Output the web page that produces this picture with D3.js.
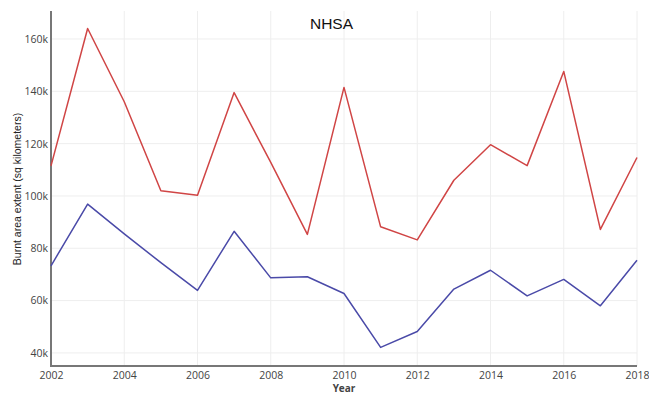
<!DOCTYPE html>
<html>
<head>
<meta charset="utf-8">
<script src="https://cdn.jsdelivr.net/npm/d3@7"></script>
<style>
  html, body { margin: 0; padding: 0; background: #fff; }
  svg { display: block; }
</style>
</head>
<body>
<svg id="chart" width="649" height="395"></svg>
<script>
const years = [2002, 2003, 2004, 2005, 2006, 2007, 2008, 2009, 2010, 2011, 2012, 2013, 2014, 2015, 2016, 2017, 2018];
const redSeries = [111500, 164000, 136000, 102000, 100300, 139500, 112800, 85300, 141500, 88200, 83200, 106000, 119600, 111600, 147600, 87200, 114700];
const blueSeries = [73300, 96900, 85500, 74500, 63900, 86500, 68700, 69100, 62700, 42100, 48200, 64400, 71600, 61800, 68100, 58000, 75400];
const xTickValues = [2002, 2004, 2006, 2008, 2010, 2012, 2014, 2016, 2018];
const yTickValues = [40000, 60000, 80000, 100000, 120000, 140000, 160000];
const titleText = "NHSA";
const xTitle = "Year";
const yTitle = "Burnt area extent (sq kilometers)";

const svg = d3.select("#chart");
const pLeft = 51, pRight = 637, pTop = 11, pBottom = 366;

const x = d3.scaleLinear().domain([2002, 2018]).range([pLeft, pRight]);
const y = d3.scaleLinear().domain([35000, 170700]).range([pBottom, pTop]);

// grid
const grid = svg.append("g");
grid.selectAll("line.vg").data(xTickValues.slice(1)).enter().append("line")
  .attr("x1", d => x(d)).attr("x2", d => x(d))
  .attr("y1", pTop).attr("y2", pBottom)
  .attr("stroke", "#eeeeee").attr("stroke-width", 1);
grid.selectAll("line.hg").data(yTickValues).enter().append("line")
  .attr("x1", pLeft).attr("x2", pRight)
  .attr("y1", d => y(d)).attr("y2", d => y(d))
  .attr("stroke", "#eeeeee").attr("stroke-width", 1);

// axes
const fmt = d => (d / 1000) + "k";
const xAxis = d3.axisBottom(x).tickValues(xTickValues).tickFormat(d3.format("d")).tickSize(0).tickPadding(5.5);
const yAxis = d3.axisLeft(y).tickValues(yTickValues).tickFormat(fmt).tickSize(0).tickPadding(3);

const gx = svg.append("g").attr("transform", `translate(0,${pBottom})`).call(xAxis);
const gy = svg.append("g").attr("transform", `translate(${pLeft},0)`).call(yAxis);
[gx, gy].forEach(g => {
  g.select(".domain").remove();
  g.selectAll("text").attr("font-family", "'Open Sans', sans-serif").attr("font-size", 10.5).attr("fill", "#444");
});

svg.append("line").attr("x1", pLeft).attr("x2", pLeft).attr("y1", pTop).attr("y2", pBottom + 1)
  .attr("stroke", "#777").attr("stroke-width", 2);
svg.append("line").attr("x1", pLeft - 1).attr("x2", pRight).attr("y1", pBottom).attr("y2", pBottom)
  .attr("stroke", "#777").attr("stroke-width", 2);

// lines
const line = d3.line().x((d, i) => x(years[i])).y(d => y(d));
svg.append("path").datum(redSeries).attr("d", line)
  .attr("fill", "none").attr("stroke", "#d04545").attr("stroke-width", 1.5).attr("stroke-linejoin", "round");
svg.append("path").datum(blueSeries).attr("d", line)
  .attr("fill", "none").attr("stroke", "#4a4aa8").attr("stroke-width", 1.5).attr("stroke-linejoin", "round");

// titles
svg.append("text").attr("x", 331.5).attr("y", 29).attr("text-anchor", "middle")
  .attr("font-family", "'Liberation Sans', Arial, sans-serif").attr("font-size", 15.5).attr("fill", "#111")
  .text(titleText);
svg.append("text").attr("x", 344).attr("y", 391.5).attr("text-anchor", "middle")
  .attr("font-family", "'Open Sans', sans-serif").attr("font-size", 10).attr("font-weight", "bold").attr("fill", "#444")
  .text(xTitle);
svg.append("text").attr("transform", "translate(21,189) rotate(-90)").attr("text-anchor", "middle")
  .attr("font-family", "'Liberation Sans', Arial, sans-serif").attr("font-size", 10.5).attr("fill", "#222")
  .text(yTitle);
</script>
</body>
</html>
